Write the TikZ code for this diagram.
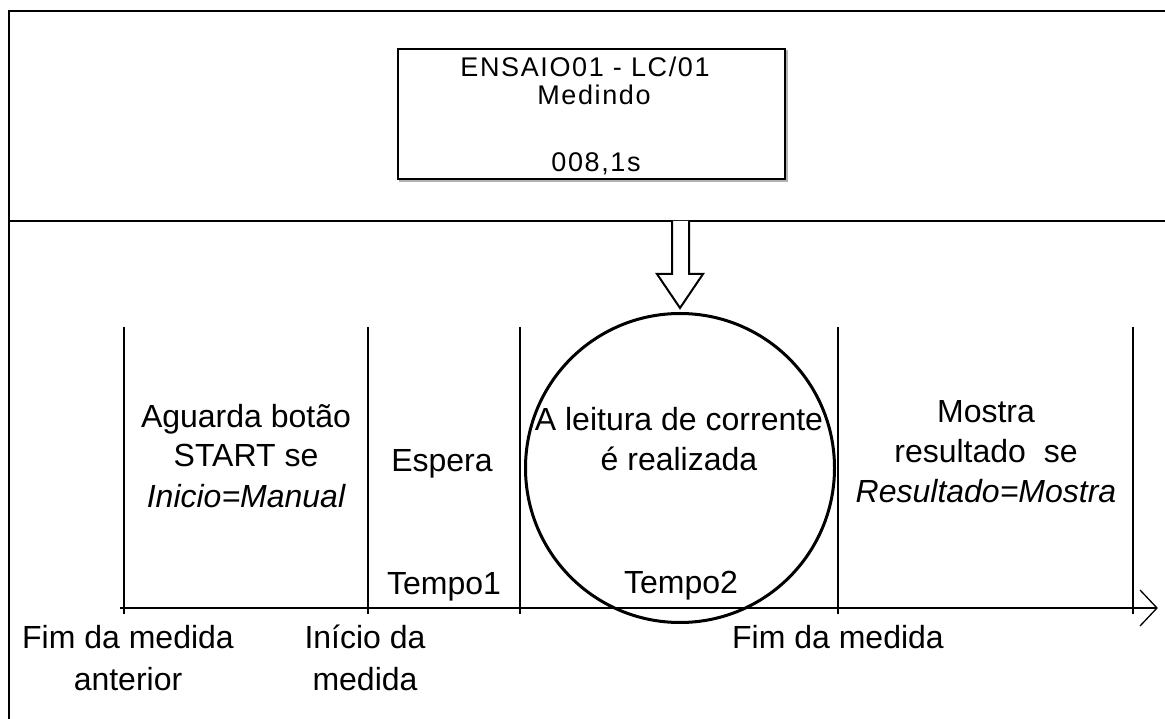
\documentclass[tikz,border=0pt]{standalone}
\usepackage{fontspec}
\setmainfont{Liberation Sans}
\tikzset{
  frameline/.style={line width=2.6pt, line cap=rect},
  tick/.style={line width=1.3pt},
  lbl/.style={anchor=base, inner sep=0pt, font=\fontsize{32}{40}\selectfont},
  lcd/.style={anchor=base, inner sep=0pt, font=\fontsize{27}{30}\selectfont\addfontfeature{LetterSpace=6}},
}
\begin{document}
\begin{tikzpicture}[x=1pt,y=-1pt]
\useasboundingbox (0,0) rectangle (1165,719);
% outer frame
\coordinate (fTL) at (9,11);
\coordinate (fTR) at (1166,11);
\coordinate (fBL) at (9,720);
\coordinate (dL) at (9,221);
\coordinate (dR) at (1166,221);
\draw[frameline] (fTR) -- (fTL) -- (fBL);
\draw[frameline] (dL) -- (dR);
% LCD box
\draw[line width=2pt, gray!60] (400,51) rectangle (787,181.5);
\draw[line width=2pt, fill=white] (398,49) rectangle (785,179);
\node[lcd] (l1) at (585,77) {ENSAIO01 - LC/01};
\node[lcd] (l2) at (594,105) {Medindo};
\node[lcd] (l3) at (596,172) {008,1s};
% hollow arrow
\draw[line width=2pt, fill=white, line join=miter]
  (672,221) -- (672,274) -- (657,274) -- (680,308) -- (703,274) -- (689,274) -- (689,221);
% circle
\node[draw, circle, line width=3pt, minimum size=309pt, inner sep=0pt] (circ) at (680,468) {};
% vertical lines
\foreach \n/\x in {v1/124, v2/368, v3/520, v4/838, v5/1133} {
  \coordinate (\n t) at (\x,327);
  \coordinate (\n b) at (\x,614);
  \draw[tick] (\n t) -- (\n b);
}
% axis
\coordinate (ax0) at (120,608);
\coordinate (ax1) at (1157,608);
\coordinate (ah1) at (1140,590);
\coordinate (ah2) at (1140,626);
\draw[tick] (ax0) -- (ax1);
\draw[tick, line join=miter] (ah1) -- (ax1) -- (ah2);
% texts
\node[lbl] (a1) at (246,427) {Aguarda botão};
\node[lbl] (a2) at (246,466) {START se};
\node[lbl] (a3) at (246,507) {\itshape Inicio=Manual};
\node[lbl] (esp) at (442,471) {Espera};
\node[lbl] (t1) at (444,594) {Tempo1};
\node[lbl] (r1) at (679,430) {A leitura de corrente};
\node[lbl] (r2) at (679,470) {é realizada};
\node[lbl] (t2) at (681,593) {Tempo2};
\node[lbl] (m1) at (986,422) {Mostra};
\node[lbl] (m2) at (986,462) {resultado\ \ se};
\node[lbl] (m3) at (986,502) {\itshape Resultado=Mostra};
\node[lbl] (f1) at (128,648) {Fim da medida};
\node[lbl] (f2) at (128,690) {anterior};
\node[lbl] (i1) at (365,648) {Início da};
\node[lbl] (i2) at (365,690) {medida};
\node[lbl] (f3) at (838,648) {Fim da medida};
\end{tikzpicture}
\end{document}
